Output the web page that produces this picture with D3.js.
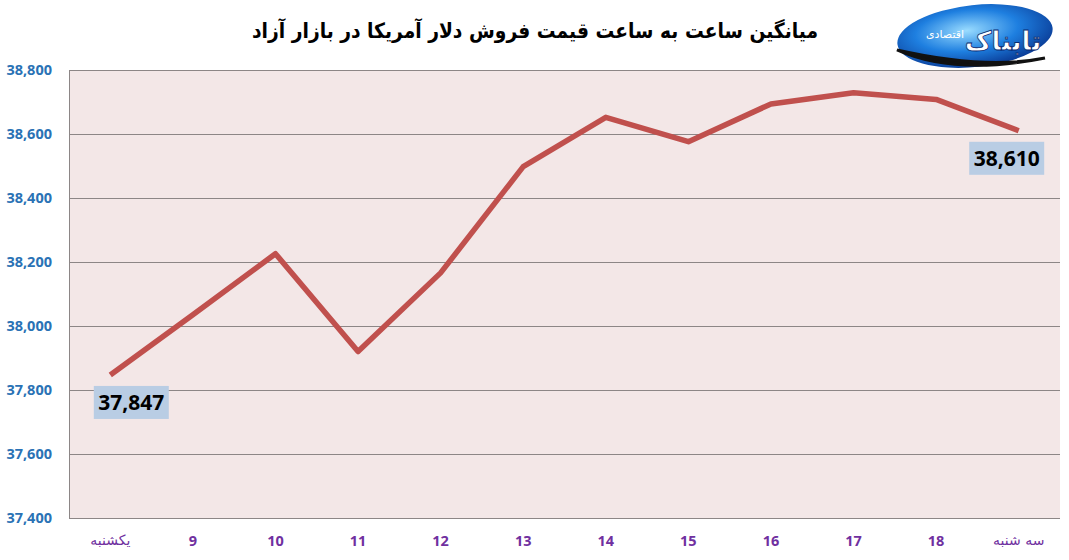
<!DOCTYPE html>
<html>
<head>
<meta charset="utf-8">
<script src="https://cdn.jsdelivr.net/npm/d3@7"></script>
<style>
  body { margin: 0; background: #fff; }
  svg { display: block; }
</style>
</head>
<body>
<svg id="chart"></svg>
<script>
const width = 1069;
const height = 560;

const title = 'میانگین ساعت به ساعت قیمت فروش دلار آمریکا در بازار آزاد';
const categories = ['یکشنبه', '9', '10', '11', '12', '13', '14', '15', '16', '17', '18', 'سه شنبه'];
const prices = [37847, 38035, 38226, 37920, 38166, 38498, 38652, 38576, 38694, 38729, 38708, 38610];
const yTicks = [37400, 37600, 37800, 38000, 38200, 38400, 38600, 38800];
// only first and last points get a label
const labelled = [0, 11];

const margin = {top: 70, right: 9, bottom: 42, left: 69};

const svg = d3.select('#chart')
    .attr('width', width)
    .attr('height', height);

const x = d3.scaleBand()
    .domain(categories)
    .range([margin.left, width - margin.right]);

const y = d3.scaleLinear()
    .domain([37400, 38800])
    .range([height - margin.bottom, margin.top]);

// plot background
svg.append('rect')
    .attr('x', margin.left)
    .attr('y', margin.top)
    .attr('width', width - margin.left - margin.right)
    .attr('height', height - margin.top - margin.bottom)
    .attr('fill', '#f3e7e7');

// gridlines
svg.append('g')
    .selectAll('line')
    .data(yTicks)
    .enter().append('line')
    .attr('x1', margin.left)
    .attr('x2', width - margin.right)
    .attr('y1', function(d) {
      return Math.round(y(d)) + 0.5;
    })
    .attr('y2', function(d) {
      return Math.round(y(d)) + 0.5;
    })
    .attr('stroke', '#8c8686')
    .attr('stroke-width', 1);

// left axis line
svg.append('line')
    .attr('x1', margin.left + 0.5)
    .attr('x2', margin.left + 0.5)
    .attr('y1', margin.top)
    .attr('y2', height - margin.bottom)
    .attr('stroke', '#8c8686');

const yAxis = svg.append('g')
    .attr('transform', 'translate(' + (margin.left - 14) + ',0)')
    .call(d3.axisLeft(y).tickValues(yTicks).tickSize(0).tickFormat(d3.format(',')));
yAxis.select('.domain').remove();
yAxis.selectAll('text')
    .attr('fill', '#2a72b5')
    .attr('font-family', 'Open Sans, sans-serif')
    .attr('font-weight', 'bold')
    .attr('font-size', '14.5px');

const xAxis = svg.append('g')
    .attr('transform', 'translate(0,' + (height - margin.bottom) + ')')
    .call(d3.axisBottom(x).tickSize(0));
xAxis.select('.domain').remove();
xAxis.selectAll('text')
    .attr('fill', '#7030a0')
    .attr('font-family', 'Open Sans, sans-serif')
    .attr('font-weight', 'bold')
    .attr('font-size', '14.5px')
    .attr('dy', '1.7em');
xAxis.selectAll('text')
    .filter(function(d, i) {
      return i === 0 || i === categories.length - 1;
    })
    .attr('font-family', 'DejaVu Sans, sans-serif')
    .attr('font-weight', 'normal')
    .attr('font-size', '14px');

// line
const line = d3.line()
    .x(function(d, i) {
      return x(categories[i]) + x.bandwidth() / 2;
    })
    .y(function(d) {
      return y(d);
    });

svg.append('path')
    .datum(prices)
    .attr('d', line)
    .attr('fill', 'none')
    .attr('stroke', '#c0504d')
    .attr('stroke-width', 5.5)
    .attr('stroke-linejoin', 'round');

// data labels
const labels = svg.append('g')
    .selectAll('g')
    .data(labelled)
    .enter().append('g')
    .attr('transform', function(i) {
      const cx = x(categories[i]) + x.bandwidth() / 2 + (i === 0 ? 21 : -12);
      return 'translate(' + cx + ',' + (y(prices[i]) + 11) + ')';
    });
labels.append('rect')
    .attr('x', -37.5)
    .attr('y', 0)
    .attr('width', 75)
    .attr('height', 33)
    .attr('fill', '#b9cde4');
labels.append('text')
    .attr('text-anchor', 'middle')
    .attr('y', 24)
    .attr('font-family', 'Open Sans, sans-serif')
    .attr('font-weight', 'bold')
    .attr('font-size', '21px')
    .attr('fill', '#000')
    .text(function(i) {
      return d3.format(',')(prices[i]);
    });

// title
svg.append('text')
    .attr('x', 535)
    .attr('y', 38)
    .attr('text-anchor', 'middle')
    .attr('direction', 'rtl')
    .attr('font-family', 'DejaVu Sans, sans-serif')
    .attr('font-weight', 'bold')
    .attr('font-size', '21px')
    .attr('textLength', 566)
    .attr('lengthAdjust', 'spacingAndGlyphs')
    .attr('fill', '#000')
    .text(title);

// logo
const defs = svg.append('defs');
const grad = defs.append('radialGradient')
    .attr('id', 'logoGrad')
    .attr('cx', '45%')
    .attr('cy', '40%')
    .attr('r', '60%');
grad.append('stop').attr('offset', '0%').attr('stop-color', '#9adcff');
grad.append('stop').attr('offset', '55%').attr('stop-color', '#1e7fe0');
grad.append('stop').attr('offset', '100%').attr('stop-color', '#0b3f9a');

const logo = svg.append('g').attr('transform', 'translate(975,36)');
logo.append('ellipse')
    .attr('rx', 78)
    .attr('ry', 31)
    .attr('fill', 'url(#logoGrad)')
    .attr('transform', 'rotate(-6)');
logo.append('path')
    .attr('d', 'M-78,14 Q-20,40 70,22 Q10,34 -78,14 Z')
    .attr('fill', '#111')
    .attr('stroke', '#111')
    .attr('stroke-width', 3);
logo.append('text')
    .attr('x', 28)
    .attr('y', 14)
    .attr('text-anchor', 'middle')
    .attr('direction', 'rtl')
    .attr('font-family', 'DejaVu Sans, sans-serif')
    .attr('font-weight', 'bold')
    .attr('font-size', '26px')
    .attr('fill', '#fff')
    .attr('stroke', '#0a2a70')
    .attr('stroke-width', 0.8)
    .text('تابناک');
logo.append('text')
    .attr('x', -30)
    .attr('y', 2)
    .attr('text-anchor', 'middle')
    .attr('direction', 'rtl')
    .attr('font-family', 'DejaVu Sans, sans-serif')
    .attr('font-size', '11px')
    .attr('fill', '#fff')
    .text('اقتصادی');
</script>
</body>
</html>
